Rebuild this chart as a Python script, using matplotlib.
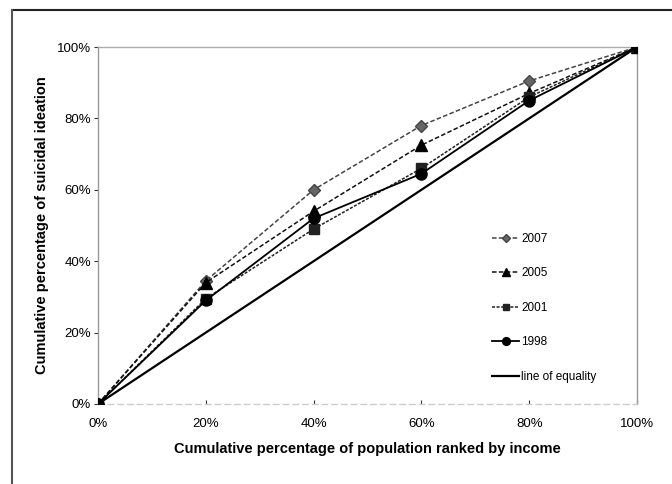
import matplotlib
matplotlib.use("Agg")
import matplotlib.pyplot as plt
from matplotlib.ticker import FuncFormatter
from matplotlib.lines import Line2D

x = [0, 20, 40, 60, 80, 100]
y2007 = [0, 34.5, 60, 78, 90.5, 100]
y2005 = [0, 34, 54, 72.5, 87, 100]
y2001 = [0, 29.5, 49, 66, 86, 100]
y1998 = [0, 29, 52, 64.5, 85, 100]
equality = [0, 20, 40, 60, 80, 100]
labels = ["2007", "2005", "2001", "1998", "line of equality"]

plt.rcParams['font.family'] = ['Liberation Sans', 'DejaVu Sans']

fig = plt.figure(figsize=(6.72, 4.84), dpi=100)
ax = fig.add_axes([98/672, 1-404/484, (637-98)/672, (404-47)/484])

ax.plot(x, y2007, color='#444444', lw=1.1, ls=(0, (3, 1.5)), marker='D', ms=6, mfc='#666666', mec='#444444', label=labels[0], zorder=4)
ax.plot(x, y2005, color='#111111', lw=1.1, ls=(0, (3, 1.5)), marker='^', ms=8, mfc='black', mec='black', label=labels[1], zorder=4)
ax.plot(x, y2001, color='#222222', lw=1.1, ls=(0, (2, 1)), marker='s', ms=7, mfc='#222222', mec='#222222', label=labels[2], zorder=4)
ax.plot(x, y1998, color='black', lw=1.3, ls='-', marker='o', ms=8, mfc='black', mec='black', label=labels[3], zorder=4)
ax.plot(x, equality, color='black', lw=1.6, ls='-', label=labels[4], zorder=3)

ax.set_xlim(0, 100)
ax.set_ylim(0, 100)
ax.set_xticks(x)
ax.set_yticks([0, 20, 40, 60, 80, 100])
fmt = FuncFormatter(lambda v, p: f"{int(v)}%")
ax.xaxis.set_major_formatter(fmt)
ax.yaxis.set_major_formatter(fmt)
ax.tick_params(axis='both', labelsize=9.5, length=3, color='#333333')
ax.tick_params(axis='x', direction='in', pad=10)
ax.tick_params(axis='y', direction='out', pad=2)
for s in ax.spines.values():
    s.set_color('#999999')
    s.set_linewidth(1.0)
ax.spines['top'].set_color('#aaaaaa')
ax.spines['bottom'].set_color('#cccccc')
ax.spines['bottom'].set_linestyle((0, (4, 3)))

ax.set_xlabel("Cumulative percentage of population ranked by income", fontsize=10.5, fontweight='bold', labelpad=9)
ax.set_ylabel("Cumulative percentage of suicidal ideation", fontsize=10.5, fontweight='bold', labelpad=6)

leg = ax.legend(loc='lower right', bbox_to_anchor=(0.945, 0.03), frameon=False, fontsize=8.5,
                labelspacing=1.9, handlelength=2.3, handletextpad=0.2, markerscale=0.7)

# outer scan border
fig.add_artist(Line2D([12/672, 1], [1-10/484, 1-10/484], color='#222222', lw=1.5, transform=fig.transFigure))
fig.add_artist(Line2D([12/672, 12/672], [0, 1-10/484], color='#555555', lw=1.5, transform=fig.transFigure))

fig.savefig("out.png", dpi=100)
